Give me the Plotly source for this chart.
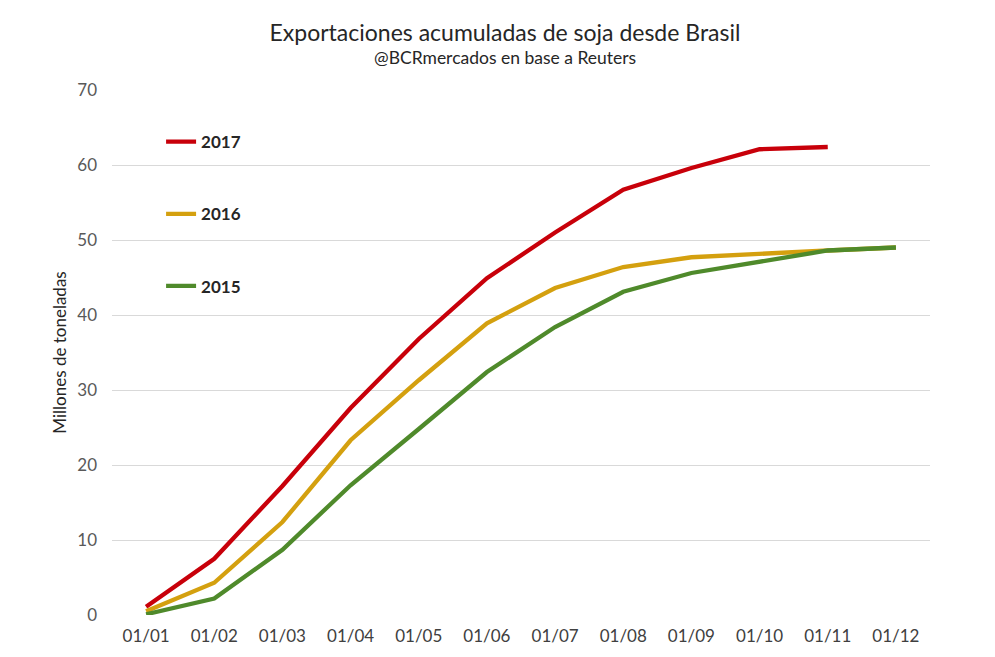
import plotly.graph_objects as go

categories = ["01/01", "01/02", "01/03", "01/04", "01/05", "01/06",
              "01/07", "01/08", "01/09", "01/10", "01/11", "01/12"]
y2017 = [1.1, 7.5, 17.2, 27.6, 36.8, 44.9, 51.0, 56.7, 59.6, 62.1, 62.4, None]
y2016 = [0.5, 4.3, 12.4, 23.3, 31.3, 38.9, 43.6, 46.4, 47.7, 48.2, 48.6, 49.0]
y2015 = [0.1, 2.2, 8.7, 17.3, 24.8, 32.4, 38.4, 43.1, 45.6, 47.1, 48.6, 49.0]

series = [
    ("2017", y2017, "#C8000A"),
    ("2016", y2016, "#D4A00F"),
    ("2015", y2015, "#4F8A2B"),
]

FONT = "Lato"

fig = go.Figure()
for name, vals, color in series:
    fig.add_trace(go.Scatter(
        x=categories, y=vals, mode="lines", name="<b>" + name + "</b>",
        legendgroup=name,
        line=dict(color=color, width=4.3),
        connectgaps=False,
    ))

fig.update_layout(
    width=995, height=657,
    paper_bgcolor="white", plot_bgcolor="white",
    margin=dict(l=104, r=73, t=82, b=50),
    title=dict(
        text="Exportaciones acumuladas de soja desde Brasil",
        x=0.4995, xanchor="center", xref="container",
        y=1 - 25 / 657, yanchor="middle", yref="container",
        font=dict(family=FONT, size=23, color="#262626"),
    ),
    annotations=[dict(
        text="@BCRmercados en base a Reuters",
        x=0.480, xref="paper", xanchor="center",
        y=1.061, yref="paper", yanchor="middle",
        showarrow=False,
        font=dict(family=FONT, size=17.5, color="#262626"),
    )],
    font=dict(family=FONT, color="#595959", size=17),
    showlegend=True,
    legend=dict(
        x=0.060, y=0.935, xanchor="left", yanchor="top",
        bgcolor="rgba(0,0,0,0)",
        font=dict(family=FONT, size=17, color="#262626"),
        tracegroupgap=47,
        itemwidth=30,
    ),
    xaxis=dict(
        type="category", range=[-0.5, 11.5],
        showgrid=False, showline=False, zeroline=False,
        ticks="", ticklabelstandoff=9,
        tickfont=dict(family=FONT, size=17, color="#404040"),
    ),
    yaxis=dict(
        range=[0, 70], dtick=10, tick0=0,
        showgrid=True, gridcolor="#D9D9D9", gridwidth=1,
        zeroline=False, showline=False, ticks="",
        ticklabelstandoff=14,
        tickfont=dict(family=FONT, size=17, color="#595959"),
        title=dict(text="Millones de toneladas",
                   font=dict(family=FONT, size=17, color="#262626"),
                   standoff=6),
    ),
)

fig.write_html("out.html")
